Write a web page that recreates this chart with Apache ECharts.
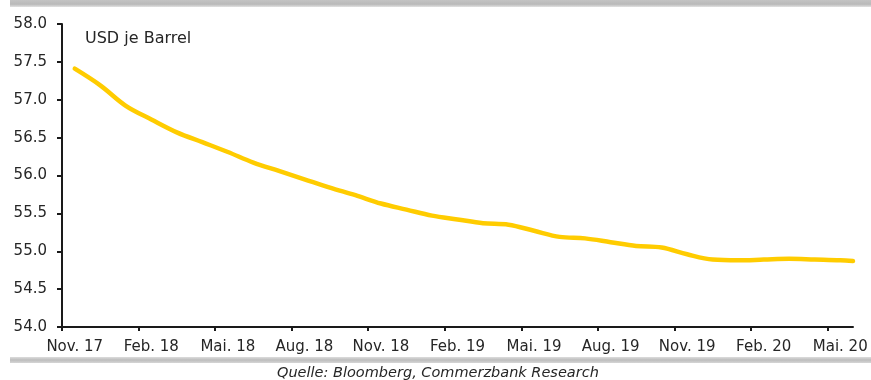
<!DOCTYPE html>
<html>
<head>
<meta charset="utf-8">
<script src="https://cdn.jsdelivr.net/npm/echarts@6/dist/echarts.min.js"></script>
<style>
  html, body { margin: 0; padding: 0; background: #fff; }
  #chart { width: 871px; height: 380px; }
</style>
</head>
<body>
<div id="chart"></div>
<script>
// Monthly categories of the time axis (label every third month)
const monthLabels = ['Nov. 17','Dez. 17','Jan. 18','Feb. 18','Mär. 18','Apr. 18','Mai. 18','Jun. 18','Jul. 18','Aug. 18','Sep. 18','Okt. 18',
  'Nov. 18','Dez. 18','Jan. 19','Feb. 19','Mär. 19','Apr. 19','Mai. 19','Jun. 19','Jul. 19','Aug. 19','Sep. 19','Okt. 19',
  'Nov. 19','Dez. 19','Jan. 20','Feb. 20','Mär. 20','Apr. 20','Mai. 20'];

// Position of each contract in months since Nov. 2017
const contractMonth = [0.5, 1.5, 2.5, 3.5, 4.5, 5.5, 6.5, 7.5, 8.5, 9.5, 10.5, 11.5, 12.5, 13.5, 14.5, 15.5,
  16.5, 17.5, 18.5, 19.5, 20.5, 21.5, 22.5, 23.5, 24.5, 25.5, 26.5, 27.5, 28.5, 29.5, 30.5, 31];

// Price in USD per barrel
const price = [57.41, 57.19, 56.92, 56.74, 56.57, 56.44, 56.31, 56.17, 56.06, 55.95, 55.84, 55.74, 55.63, 55.55, 55.47, 55.42,
  55.37, 55.35, 55.27, 55.19, 55.17, 55.12, 55.07, 55.05, 54.96, 54.89, 54.88, 54.89, 54.90, 54.89, 54.88, 54.87];

const yTicks = { min: 54, max: 58, step: 0.5 };
const unitLabel = 'USD je Barrel';
const sourceLabel = 'Quelle: Bloomberg, Commerzbank Research';

const FONT = '"DejaVu Sans", Arial, sans-serif';
const INK = '#262626';

// Tick marks sit on the start of every third month
const tickMonths = monthLabels.map((_, i) => i).filter(i => i % 3 === 0);

const chart = echarts.init(document.getElementById('chart'), null, { renderer: 'canvas' });

chart.setOption({
  animation: false,
  backgroundColor: '#fff',
  grid: { left: 62, right: 18, top: 24, bottom: 53, containLabel: false },
  xAxis: [
    {
      type: 'value',
      position: 'bottom',
      min: 0,
      max: monthLabels.length,
      axisLine: { show: true, lineStyle: { color: '#1a1a1a', width: 2 } },
      axisTick: { show: true, customValues: tickMonths, length: 4, inside: false, lineStyle: { color: '#1a1a1a', width: 2 } },
      axisLabel: { show: false },
      splitLine: { show: false }
    },
    {
      type: 'category',
      position: 'bottom',
      data: monthLabels,
      boundaryGap: true,
      axisLine: { show: false },
      axisTick: { show: false },
      axisLabel: { interval: 2, margin: 13, color: INK, fontFamily: FONT, fontSize: 15 },
      splitLine: { show: false }
    }
  ],
  yAxis: {
    type: 'value',
    min: yTicks.min,
    max: yTicks.max,
    interval: yTicks.step,
    axisLine: { show: true, lineStyle: { color: '#1a1a1a', width: 2 } },
    axisTick: { show: true, length: 5, lineStyle: { color: '#1a1a1a', width: 2 } },
    axisLabel: { margin: 15, color: INK, fontFamily: FONT, fontSize: 15, formatter: v => v.toFixed(1) },
    splitLine: { show: false }
  },
  series: [{
    type: 'line',
    xAxisIndex: 0,
    data: contractMonth.map((m, i) => [m, price[i]]),
    smooth: 0.35,
    showSymbol: false,
    clip: false,
    lineStyle: { color: '#FFCC00', width: 4.5, cap: 'round' }
  }],
  graphic: [
    {
      type: 'rect', left: 10, top: 0, z: 10,
      shape: { width: 861, height: 7 },
      style: { fill: new echarts.graphic.LinearGradient(0, 0, 0, 1, [
        { offset: 0, color: '#c4c4c4' }, { offset: 0.6, color: '#b9b9b9' }, { offset: 1, color: '#e2e2e2' }]) }
    },
    {
      type: 'rect', left: 10, top: 357, z: 10,
      shape: { width: 861, height: 6 },
      style: { fill: new echarts.graphic.LinearGradient(0, 0, 0, 1, [
        { offset: 0, color: '#dcdcdc' }, { offset: 0.5, color: '#bdbdbd' }, { offset: 1, color: '#d6d6d6' }]) }
    },
    {
      type: 'text', left: 85, top: 31, z: 10,
      style: { text: unitLabel, fill: INK, font: '16px ' + FONT }
    },
    {
      type: 'text', left: 277, top: 366, z: 10,
      style: { text: sourceLabel, fill: INK, font: 'italic 14.5px ' + FONT }
    }
  ]
});
</script>
</body>
</html>
